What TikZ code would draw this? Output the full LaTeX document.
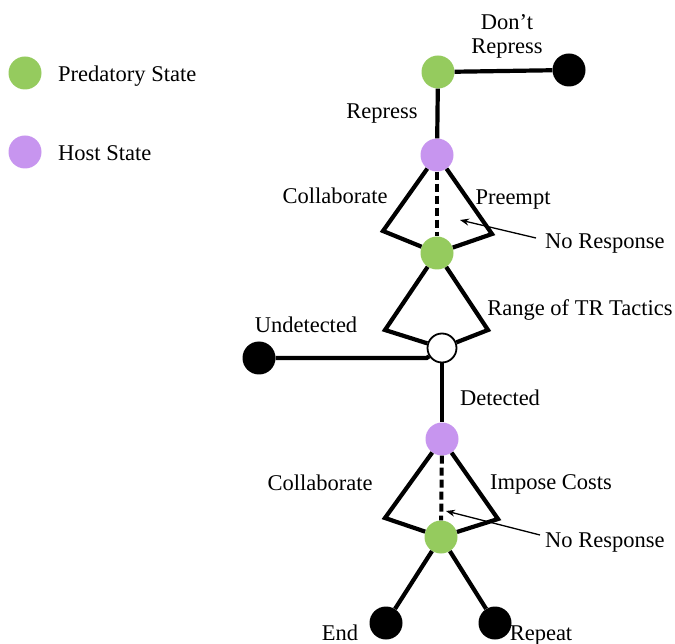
\documentclass[tikz,border=0pt]{standalone}
\usepackage{fontspec}
\setmainfont{Liberation Serif}
\usetikzlibrary{arrows.meta}
\definecolor{predgreen}{HTML}{95CB5E}
\definecolor{hostpurple}{HTML}{C795EF}
\begin{document}
\begin{tikzpicture}[x=1pt,y=-1pt,
  state/.style={circle,inner sep=0pt,minimum size=33pt,draw=none},
  pred/.style={state,fill=predgreen},
  host/.style={state,fill=hostpurple},
  term/.style={state,fill=black},
  chance/.style={circle,inner sep=0pt,minimum size=29pt,draw=black,line width=1.8pt,fill=white},
  edge/.style={line width=4.2pt,line join=miter},
  noresp/.style={line width=4pt,dash pattern=on 8pt off 4pt},
  pointer/.style={line width=1.3pt,-{Stealth[length=9pt,width=7pt]}},
  lbl/.style={font=\fontsize{22.5}{25}\selectfont,inner sep=0pt,anchor=base}]
\useasboundingbox (0,0) rectangle (675,644);
% legend
\node[pred] (lg) at (25,73) {};
\node[lbl,anchor=base west] (lgt) at (58,81.5) {Predatory State};
\node[host] (lh) at (25,152) {};
\node[lbl,anchor=base west] (lht) at (58,161) {Host State};
% nodes
\node[pred] (p1) at (438,72) {};
\node[term] (t1) at (569,70) {};
\node[host] (h1) at (437,155) {};
\node[pred] (p2) at (437,253) {};
\node[chance] (c1) at (442,348) {};
\node[term] (t2) at (259,358) {};
\node[host] (h2) at (442,439) {};
\node[pred] (p3) at (441,537) {};
\node[term] (t3) at (386,623) {};
\node[term] (t4) at (495,623) {};
% corners
\coordinate (a1) at (383,231);
\coordinate (b1) at (492,234);
\coordinate (a2) at (385,330);
\coordinate (b2) at (488,330);
\coordinate (a3) at (385,518);
\coordinate (b3) at (498,519);
\coordinate (r1) at (536,238);
\coordinate (r2) at (540,535);
\coordinate (e1) at (460,220);
\coordinate (e2) at (446,511);
% edges
\draw[edge] (p1) -- (t1);
\draw[edge] (p1) -- (h1);
\draw[edge] (h1) -- (a1) -- (p2);
\draw[edge] (h1) -- (b1) -- (p2);
\draw[noresp] (h1) -- (p2);
\draw[edge] (p2) -- (a2) -- (c1);
\draw[edge] (p2) -- (b2) -- (c1);
\draw[edge] (c1) -- (t2 -| c1.west) -- (t2);
\draw[edge] (c1) -- (h2);
\draw[edge] (h2) -- (a3) -- (p3);
\draw[edge] (h2) -- (b3) -- (p3);
\draw[noresp] (h2) -- (p3);
\draw[edge] (p3) -- (t3);
\draw[edge] (p3) -- (t4);
\draw[pointer] (r1) -- (e1);
\draw[pointer] (r2) -- (e2);
% labels
\node[lbl] (l1a) at (507,29.5) {Don’t};
\node[lbl] (l1b) at (507,53.5) {Repress};
\node[lbl] (l2) at (382,119) {Repress};
\node[lbl] (l3) at (335,204) {Collaborate};
\node[lbl] (l4) at (513,205) {Preempt};
\node[lbl,anchor=base west] (l5) at (545,249) {No Response};
\node[lbl] (l6) at (580,316) {Range of TR Tactics};
\node[lbl] (l7) at (306,333) {Undetected};
\node[lbl] (l8) at (500,406) {Detected};
\node[lbl] (l9) at (320,490) {Collaborate};
\node[lbl] (l10) at (551,489.5) {Impose Costs};
\node[lbl,anchor=base west] (l11) at (545,547) {No Response};
\node[lbl] (l12) at (340,640) {End};
\node[lbl] (l13) at (541,640) {Repeat};
\end{tikzpicture}
\end{document}
